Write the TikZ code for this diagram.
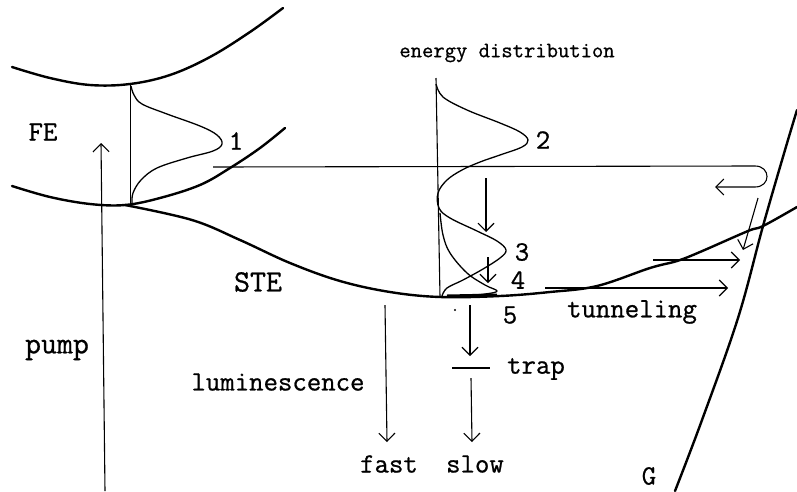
\documentclass[tikz,border=0pt]{standalone}
\usepackage{fontspec}
\newfontfamily\plotfont{Latin Modern Mono}[FakeBold=0.8]
\usetikzlibrary{arrows.meta}
\begin{document}
\begin{tikzpicture}[x=1pt,y=-1pt,
  band/.style={line width=2.4pt, line cap=round, line join=round},
  thinl/.style={line width=1.1pt},
  distr/.style={line width=1.3pt, line join=round},
  arr/.style={line width=1.1pt, -{Straight Barb[length=8pt,width=16pt,line width=1.1pt]}},
  lab/.style={font=\fontsize{28}{28}\selectfont\plotfont, inner sep=0pt},
  biglab/.style={font=\fontsize{31}{31}\selectfont\plotfont, inner sep=0pt},
  smalllab/.style={font=\fontsize{22}{22}\selectfont\plotfont, inner sep=0pt},
  digit/.style={font=\fontsize{28}{28}\selectfont\plotfont, inner sep=0pt}]
\useasboundingbox (0,0) rectangle (797,491);

% upper FE band
\draw[band] plot[smooth, tension=0.6] coordinates {(12,67) (50,78) (90,85) (130,84) (170,75) (210,57) (250,32) (283,8)};
% lower FE band (left part and rising branch)
\draw[band] plot[smooth, tension=0.6] coordinates {(12,186) (50,197) (90,204) (125,205) (160,198) (200,185) (230,168) (260,148) (285,128)};
% STE curve
\draw[band] plot[smooth, tension=0.6] coordinates {(125,205) (192,220) (240,240) (290,263) (340,281) (390,292) (440,297) (500,296) (550,292) (597,286) (650,268) (677,261) (700,252) (748,231) (763,226) (797,207)};
% G curve
\draw[band] plot[smooth, tension=0.6] coordinates {(675,491) (702,420) (738,318) (763,226) (785,150) (797,110)};

% distribution axes
\coordinate (axAt) at (130.5,83);
\coordinate (axAb) at (130.5,205);
\draw[thinl] (axAt) -- (axAb);
\coordinate (axBt) at (436,78);
\coordinate (axBb) at (440,297);
\draw[thinl] (axBt) -- (axBb);

% distribution 1
\draw[distr] plot[smooth, tension=0.6] coordinates {(131,86) (134,95) (142,104) (167,114) (200,126) (217,135) (222,144) (213,151) (187,158) (157,168) (141,180) (133,193) (132,203)};
% distributions 2 and 3
\draw[distr] plot[smooth, tension=0.6] coordinates {(436,84) (443,97) (467,110) (500,123) (520,132) (528,140) (522,147) (500,155) (480,162) (462,170) (447,180) (438,193) (439,208) (450,218) (477,231) (497,241) (506,250) (500,258) (483,269) (463,280) (447,288) (442,296)};
% distribution 4
\draw[distr] plot[smooth, tension=0.6] coordinates {(440,213) (443,235) (450,253) (467,273) (485,285) (497,291) (485,294) (460,296)};
% distribution 5
\draw[line width=3pt] (447,296) -- (497,295);

% horizontal line with U-turn
\coordinate (hA) at (213,167);
\coordinate (hB) at (755,166);
\coordinate (hC) at (755,187);
\coordinate (hD) at (715,187);
\draw[arr] (hA) -- (hB) .. controls (771,166) and (771,187) .. (hC) -- (hD);

% pump arrow
\coordinate (pA) at (105,491);
\coordinate (pB) at (101,143);
\draw[arr] (pA) -- (pB);

% relaxation arrows
\coordinate (r1a) at (486,178); \coordinate (r1b) at (486,232);
\draw[arr] (r1a) -- (r1b);
\coordinate (r2a) at (488,257); \coordinate (r2b) at (488,283);
\draw[arr] (r2a) -- (r2b);

% slanted arrow near crossing
\coordinate (sA) at (758,198); \coordinate (sB) at (743,250);
\draw[arr] (sA) -- (sB);

% tunneling arrows
\coordinate (t1a) at (653,260); \coordinate (t1b) at (740,260);
\draw[arr] (t1a) -- (t1b);
\coordinate (t2a) at (545,288); \coordinate (t2b) at (728,288);
\draw[arr] (t2a) -- (t2b);

% luminescence arrows
\coordinate (fA) at (385,305); \coordinate (fB) at (387,442);
\draw[arr] (fA) -- (fB);
\coordinate (trA) at (470,305); \coordinate (trB) at (470,356);
\draw[arr] (trA) -- (trB);
\coordinate (tl1) at (452,368); \coordinate (tl2) at (490,368);
\draw[line width=1.4pt] (tl1) -- (tl2);
\coordinate (slA) at (471,378); \coordinate (slB) at (472,442);
\draw[arr] (slA) -- (slB);

\fill (455,310) circle (1.2pt);

% labels
\node[smalllab] (ed) at (507,53) {energy distribution};
\node[lab] (fe) at (43,132) {FE};
\node[biglab] (ste) at (258,282) {STE};
\node[biglab] (pump) at (57,350) {pump};
\node[lab] (lum) at (278,382) {luminescence};
\node[lab] (trap) at (536,369) {trap};
\node[lab] (fast) at (389,464) {fast};
\node[lab] (slow) at (475,464) {slow};
\node[lab] (tun) at (632,312) {tunneling};
\node[lab] (g) at (649,476) {G};
\node[digit] (d1) at (236,141) {1};
\node[digit] (d2) at (543,140) {2};
\node[digit] (d3) at (522,252) {3};
\node[digit] (d4) at (518,280) {4};
\node[digit] (d5) at (510,315) {5};
\end{tikzpicture}
\end{document}
